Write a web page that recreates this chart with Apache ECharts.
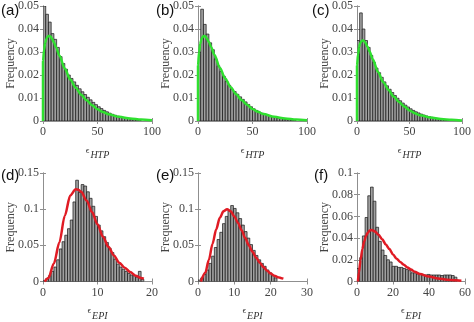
<!DOCTYPE html>
<html><head><meta charset="utf-8">
<script src="https://cdn.jsdelivr.net/npm/echarts@6/dist/echarts.min.js"></script>
<style>html,body{margin:0;padding:0;background:#fff}#c{width:474px;height:322px}</style>
</head><body><div id="c"></div>
<script>
// ---- Data ----
const panelLabels = ['(a)', '(b)', '(c)', '(d)', '(e)', '(f)'];
const xNames = ['HTP', 'HTP', 'HTP', 'EPI', 'EPI', 'EPI'];
const yName = 'Frequency';

// histogram bin widths
const aBinWidth = 2.5, bBinWidth = 2.5, cBinWidth = 2.5;
const dBinWidth = 0.5, eBinWidth = 0.75, fBinWidth = 1.5;

// histogram frequencies (bins start at 0)
const aBins = [0.05, 0.0464, 0.043, 0.038, 0.0355, 0.032, 0.028, 0.025, 0.0225, 0.02, 0.0185, 0.017, 0.0155, 0.014, 0.0127, 0.0115, 0.0103, 0.0092, 0.0081, 0.0071, 0.0062, 0.0054, 0.0046, 0.004, 0.0034, 0.0029, 0.0025, 0.0021, 0.0018, 0.0015, 0.0013, 0.0011, 0.0009, 0.0007, 0.0005, 0.0004];
const bBins = [0.03, 0.0486, 0.042, 0.0378, 0.034, 0.031, 0.027, 0.024, 0.0215, 0.0195, 0.0172, 0.0155, 0.0138, 0.0128, 0.0116, 0.0105, 0.0094, 0.0083, 0.0072, 0.0062, 0.0053, 0.0046, 0.0039, 0.0034, 0.0029, 0.0025, 0.0021, 0.0018, 0.0015, 0.0013, 0.0011, 0.0009, 0.0007, 0.0006, 0.0004, 0.0003];
const cBins = [0.035, 0.047, 0.04, 0.035, 0.032, 0.0285, 0.0255, 0.023, 0.021, 0.019, 0.017, 0.0153, 0.0138, 0.0124, 0.0111, 0.0099, 0.0088, 0.0078, 0.0069, 0.0061, 0.0053, 0.0046, 0.004, 0.0035, 0.003, 0.0026, 0.0022, 0.0019, 0.0016, 0.0013, 0.0011, 0.0009, 0.0007, 0.0005, 0.0004, 0.0003];
const dBins = [0.001, 0.004, 0.008, 0.014, 0.02, 0.03, 0.045, 0.055, 0.064, 0.073, 0.085, 0.11, 0.14, 0.123, 0.134, 0.132, 0.124, 0.115, 0.104, 0.09, 0.078, 0.07, 0.062, 0.054, 0.046, 0.04, 0.031, 0.024, 0.02, 0.017, 0.014, 0.011, 0.009, 0.008, 0.006, 0.014, 0.003];
const eBins = [0.002, 0.005, 0.01, 0.016, 0.025, 0.035, 0.047, 0.058, 0.068, 0.08, 0.09, 0.098, 0.105, 0.101, 0.095, 0.087, 0.078, 0.069, 0.06, 0.051, 0.043, 0.036, 0.03, 0.025, 0.021, 0.016, 0.012, 0.008, 0.005];
const fBins = [0.012, 0.022, 0.042, 0.059, 0.079, 0.087, 0.074, 0.05, 0.037, 0.029, 0.024, 0.02, 0.018, 0.014, 0.014, 0.013, 0.013, 0.012, 0.011, 0.01, 0.008, 0.008, 0.007, 0.007, 0.006, 0.006, 0.0065, 0.006, 0.006, 0.006, 0.006, 0.0055, 0.006, 0.006, 0.006, 0.0055, 0.004];

// fitted curves
const htpFitX = [0, 0.01, 1, 2, 3, 4, 5, 6, 7, 8, 10, 12, 15, 20, 25, 30, 35, 40, 45, 50, 55, 60, 70, 80, 90, 100];
const aFitY = [0, 0.026, 0.031, 0.034, 0.0355, 0.0365, 0.037, 0.037, 0.0367, 0.036, 0.0342, 0.032, 0.0285, 0.0228, 0.018, 0.0145, 0.0114, 0.009, 0.0069, 0.0051, 0.0039, 0.0029, 0.0018, 0.0011, 0.0006, 0.0003];
const bFitY = [0, 0.024, 0.03, 0.0335, 0.0353, 0.0364, 0.0369, 0.037, 0.0367, 0.036, 0.0343, 0.0322, 0.0288, 0.0232, 0.0185, 0.0147, 0.0116, 0.0091, 0.0071, 0.0052, 0.004, 0.003, 0.0018, 0.0011, 0.0006, 0.0003];
const cFitY = [0, 0.024, 0.029, 0.0322, 0.0338, 0.0346, 0.035, 0.035, 0.0347, 0.034, 0.0323, 0.0302, 0.0268, 0.0213, 0.0169, 0.0135, 0.0106, 0.0083, 0.0063, 0.0046, 0.0034, 0.0025, 0.0015, 0.0009, 0.0005, 0.0002];
const dFitX = [0.3, 1, 2, 3, 4, 5, 6, 6.5, 7, 8, 9, 10, 11, 12, 13, 14, 15, 16, 17, 18, 18.5];
const dFitY = [0, 0.005, 0.025, 0.054, 0.091, 0.119, 0.1275, 0.127, 0.124, 0.112, 0.096, 0.079, 0.062, 0.048, 0.036, 0.026, 0.019, 0.013, 0.008, 0.005, 0.004];
const eFitX = [0.8, 2, 3, 4, 5, 6, 7, 8, 9, 10, 11, 12, 13, 14, 15, 16, 17, 18, 19, 20, 21, 22, 23, 23.5];
const eFitY = [0, 0.012, 0.03, 0.052, 0.072, 0.088, 0.097, 0.1, 0.097, 0.09, 0.081, 0.071, 0.06, 0.05, 0.041, 0.033, 0.026, 0.02, 0.015, 0.011, 0.008, 0.006, 0.0045, 0.004];
const fFitX = [0.5, 1, 2, 3, 4, 5, 6, 7, 8, 9, 10, 12, 14, 16, 18, 20, 22, 24, 26, 28, 30, 32, 35, 40, 45, 50, 55, 58];
const fFitY = [0, 0.008, 0.02, 0.03, 0.037, 0.042, 0.045, 0.047, 0.0475, 0.047, 0.046, 0.043, 0.039, 0.034, 0.03, 0.025, 0.021, 0.018, 0.0155, 0.013, 0.011, 0.009, 0.0068, 0.0045, 0.0028, 0.0017, 0.0011, 0.0008];

// axis ranges and ticks
const xMax = [100, 100, 100, 20, 30, 60];
const xInterval = [50, 50, 50, 10, 10, 20];
const yMax = [0.05, 0.05, 0.05, 0.15, 0.15, 0.1];
const yInterval = [0.01, 0.01, 0.01, 0.05, 0.05, 0.02];

// ---- Chart construction ----
const binSets = [[aBins, aBinWidth], [bBins, bBinWidth], [cBins, cBinWidth], [dBins, dBinWidth], [eBins, eBinWidth], [fBins, fBinWidth]];
const fits = [[htpFitX, aFitY], [htpFitX, bFitY], [htpFitX, cFitY], [dFitX, dFitY], [eFitX, eFitY], [fFitX, fFitY]];
const fitColors = ['#2fe02f', '#2fe02f', '#2fe02f', '#e01b24', '#e01b24', '#e01b24'];

const gridPos = [
  {left: 43, top: 5, width: 109, height: 116},
  {left: 198, top: 5, width: 109, height: 116},
  {left: 357, top: 5, width: 107, height: 116},
  {left: 43, top: 173, width: 109, height: 116},
  {left: 198, top: 173, width: 109, height: 116},
  {left: 357, top: 173, width: 108, height: 116}
];
const labelPos = [[1, 3], [156, 3], [312, 3], [1, 168], [156, 168], [314, 168]];

const serif = 'Liberation Serif';
const boxColor = '#8f8f8f';
const tickText = '#444';

const grid = [], xAxis = [], yAxis = [], series = [], graphic = [];
for (let i = 0; i < 6; i++) {
  grid.push(Object.assign({containLabel: false}, gridPos[i]));
  const common = {
    axisLine: {show: true, lineStyle: {color: boxColor, width: 1}},
    axisTick: {show: true, inside: true, length: 3, lineStyle: {color: boxColor}},
    splitLine: {show: false}
  };
  xAxis.push(Object.assign({}, common, {
    type: 'value', gridIndex: i, min: 0, max: xMax[i], interval: xInterval[i], position: 'bottom',
    axisLabel: {fontFamily: serif, fontSize: 12, color: tickText, margin: 5},
    name: '{e|\u03f5}{s|' + xNames[i] + '}', nameLocation: 'middle', nameGap: 25, nameMoveOverlap: false,
    nameTextStyle: {rich: {
      e: {fontFamily: serif, fontSize: 9, color: '#333', padding: [0, 1, 6, 0]},
      s: {fontFamily: serif, fontSize: 10, fontStyle: 'italic', color: '#333', padding: [4, 0, 0, 0]}
    }}
  }));
  xAxis.push(Object.assign({}, common, {
    type: 'value', gridIndex: i, min: 0, max: xMax[i], interval: xInterval[i], position: 'top',
    axisLabel: {show: false}
  }));
  yAxis.push(Object.assign({}, common, {
    type: 'value', gridIndex: i, min: 0, max: yMax[i], interval: yInterval[i], position: 'left',
    axisLabel: {fontFamily: serif, fontSize: 12, color: tickText, margin: 4},
    name: yName, nameLocation: 'middle', nameGap: 26, nameRotate: 90, nameMoveOverlap: false,
    nameTextStyle: {fontFamily: serif, fontSize: 12, color: '#444'}
  }));
  yAxis.push(Object.assign({}, common, {
    type: 'value', gridIndex: i, min: 0, max: yMax[i], interval: yInterval[i], position: 'right',
    axisLabel: {show: false}
  }));

  const [vals, w] = binSets[i];
  const data = vals.map((v, k) => [k * w, (k + 1) * w, v]);
  series.push({
    type: 'custom', xAxisIndex: 2 * i, yAxisIndex: 2 * i, clip: true,
    encode: {x: [0, 1], y: 2},
    data: data,
    renderItem: function (params, api) {
      const p0 = api.coord([api.value(0), api.value(2)]);
      const p1 = api.coord([api.value(1), 0]);
      return {type: 'rect', shape: {x: p0[0], y: p0[1], width: p1[0] - p0[0], height: p1[1] - p0[1]},
        style: {fill: '#a0a0a0', stroke: '#141414', lineWidth: 0.7}};
    },
    z: 2
  });
  const [fx, fy] = fits[i];
  series.push({
    type: 'line', xAxisIndex: 2 * i, yAxisIndex: 2 * i,
    data: fx.map((x, k) => [x, fy[k]]),
    smooth: 0.3, smoothMonotone: 'x', showSymbol: false, symbol: 'none',
    lineStyle: {color: fitColors[i], width: 2.5}, z: 5, animation: false
  });
  graphic.push({type: 'text', left: labelPos[i][0], top: labelPos[i][1],
    style: {text: panelLabels[i], font: '15px "Liberation Sans"', fill: '#111'}});
}

const chart = echarts.init(document.getElementById('c'), null, {renderer: 'canvas'});
chart.setOption({animation: false, grid, xAxis, yAxis, series, graphic});
</script></body></html>
